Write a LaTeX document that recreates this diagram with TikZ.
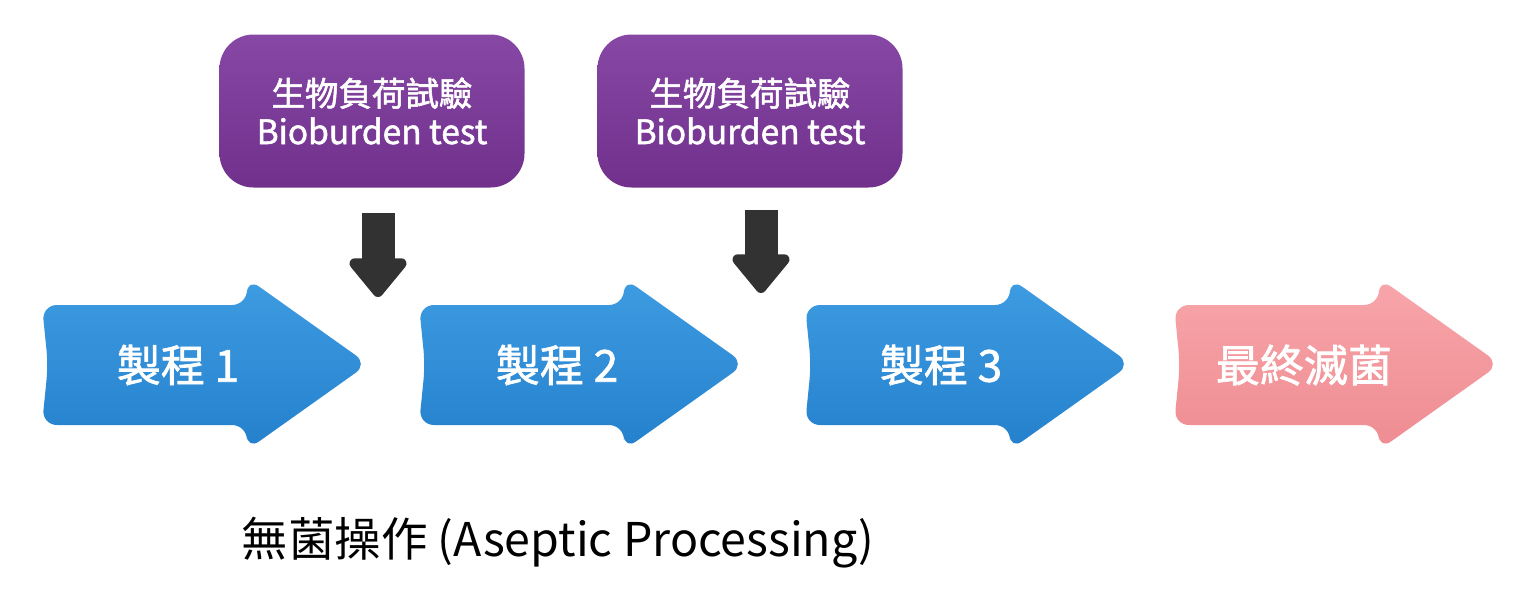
\documentclass[tikz,border=0pt]{standalone}
\usepackage{fontspec}
\setmainfont{Noto Sans CJK TC}
\newfontfamily\labelfont[FakeBold=1.6]{Noto Sans CJK TC}
\usetikzlibrary{arrows.meta}
\definecolor{blueT}{RGB}{62,156,226}
\definecolor{blueB}{RGB}{36,128,204}
\definecolor{pinkT}{RGB}{248,166,170}
\definecolor{pinkB}{RGB}{238,140,146}
\definecolor{purT}{RGB}{135,72,165}
\definecolor{purB}{RGB}{112,48,140}
\definecolor{darkarrow}{RGB}{50,50,50}
\tikzset{
  x=1pt, y=-1pt,
  bluefill/.style={top color=blueT, bottom color=blueB, rounded corners=15pt},
  pinkfill/.style={top color=pinkT, bottom color=pinkB, rounded corners=15pt},
  testbox/.style={top color=purT, bottom color=purB, rounded corners=34pt,
    minimum width=305pt, minimum height=153pt, inner sep=0pt},
  testtext/.style={text=white, font=\labelfont\fontsize{33.5}{38}\selectfont, align=center},
  proclabel/.style={text=white, font=\labelfont\fontsize{44}{48}\selectfont},
  downarrow/.style={draw=darkarrow, line width=33pt,
    -{Triangle[length=42pt,width=66pt,round]}},
  caption/.style={text=black, font=\fontsize{46.5}{52}\selectfont, anchor=west}
}
\newcommand\procshape[2]{%
  \shade[#2] (#1+2,305) -- (#1+207,305) -- (#1+207,278) -- (#1+328,364)
    -- (#1+207,450) -- (#1+207,425) -- (#1+2,425) -- (#1+8,365) -- cycle;}
\begin{document}
\begin{tikzpicture}
\useasboundingbox (0,0) rectangle (1532,590);
% test boxes
\node[testbox] (b1) at (372,111) {};
\node[testbox] (b2) at (750,111) {};
\node[testtext] (t1) at (b1) {生物負荷試驗\\Bioburden test};
\node[testtext] (t2) at (b2) {生物負荷試驗\\Bioburden test};
% down arrows
\coordinate (s1) at (378,213);
\coordinate (e1) at (378,297);
\coordinate (s2) at (761,210);
\coordinate (e2) at (761,293);
\draw[downarrow] (s1) -- (e1);
\draw[downarrow] (s2) -- (e2);
% process arrows
\procshape{40}{bluefill}
\procshape{417}{bluefill}
\procshape{803}{bluefill}
\procshape{1172}{pinkfill}
\node[proclabel] (p1) at (178,365) {製程 1};
\node[proclabel] (p2) at (557,365) {製程 2};
\node[proclabel] (p3) at (941,365) {製程 3};
\node[proclabel] (p4) at (1304,365) {最終滅菌};
% caption
\node[caption] (c) at (238,543) {無菌操作 (Aseptic Processing)};
\end{tikzpicture}
\end{document}
